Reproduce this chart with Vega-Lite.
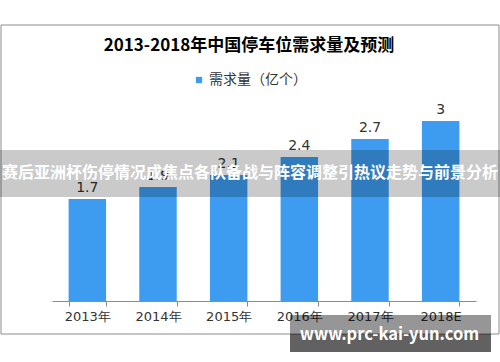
{
  "$schema": "https://vega.github.io/schema/vega-lite/v6.json",
  "width": 424,
  "height": 210,
  "autosize": "none",
  "padding": {"left": 52, "top": 91, "right": 24, "bottom": 61},
  "background": "white",
  "title": {
    "text": "2013-2018年中国停车位需求量及预测",
    "font": "Noto Sans CJK SC",
    "fontSize": 17,
    "fontWeight": "bold",
    "color": "#000000",
    "anchor": "middle",
    "dx": -15,
    "baseline": "bottom",
    "offset": -47
  },
  "config": {
    "view": {"stroke": null}
  },
  "resolve": {"scale": {"x": "independent"}, "axis": {"x": "independent"}},
  "layer": [
    {
      "data": {"values": [
        {"year": "2013年", "value": 1.7},
        {"year": "2014年", "value": 1.9},
        {"year": "2015年", "value": 2.1},
        {"year": "2016年", "value": 2.4},
        {"year": "2017年", "value": 2.7},
        {"year": "2018E", "value": 3}
      ]},
      "encoding": {
        "x": {
          "field": "year", "type": "nominal", "sort": null,
          "scale": {"paddingInner": 0.47, "paddingOuter": 0.235},
          "axis": {
            "title": null, "labelAngle": 0, "tickBand": "extent",
            "tickSize": 5, "labelPadding": 4, "labelFont": "DejaVu Sans",
            "labelFontSize": 13, "labelColor": "#333333",
            "domainColor": "#8c8c8c", "tickColor": "#8c8c8c"
          }
        },
        "y": {
          "field": "value", "type": "quantitative",
          "scale": {"domain": [0, 3.5], "nice": false},
          "axis": {
            "title": null, "grid": false,
            "values": [0, 0.5, 1, 1.5, 2, 2.5, 3, 3.5], "format": "~g",
            "tickSize": 4, "labelPadding": 4, "labelFont": "DejaVu Sans",
            "labelFontSize": 14, "labelColor": "#333333",
            "domainColor": "#8c8c8c", "tickColor": "#8c8c8c"
          }
        }
      },
      "layer": [
        {
          "mark": {"type": "bar"},
          "encoding": {
            "color": {
              "datum": "需求量（亿个）",
              "type": "nominal",
              "scale": {"range": ["#3d9cf0"]},
              "legend": {
                "title": null, "orient": "none", "legendX": 140, "legendY": -18,
                "symbolType": "square", "symbolSize": 40, "symbolStrokeWidth": 0,
                "labelFont": "Noto Sans CJK SC", "labelFontSize": 14,
                "labelColor": "#333333", "labelOffset": 3
              }
            }
          }
        },
        {
          "mark": {"type": "text", "baseline": "bottom", "dy": -4,
                   "font": "DejaVu Sans", "fontSize": 14, "color": "#333333"},
          "encoding": {"text": {"field": "value", "type": "quantitative", "format": "~g"}}
        }
      ]
    },
    {
      "data": {"values": [
        {"kind": "frame", "fx": 0.002, "fx2": 0.998, "fy": 4.6, "fy2": -0.55},
        {"kind": "banner", "fx": 0, "fx2": 1, "fy": 2.517, "fy2": 1.733},
        {"kind": "boxtop", "fx": 0.58, "fx2": 0.982, "fy": -0.233, "fy2": -0.55},
        {"kind": "boxbottom", "fx": 0.58, "fx2": 0.982, "fy": -0.55, "fy2": -0.85}
      ]},
      "mark": {"type": "rect"},
      "encoding": {
        "x": {"field": "fx", "type": "quantitative",
              "scale": {"domain": [0, 1], "range": [-52, 448]}, "axis": null},
        "x2": {"field": "fx2"},
        "y": {"field": "fy", "type": "quantitative",
              "scale": {"domain": [0, 3.5], "nice": false}, "axis": null},
        "y2": {"field": "fy2"},
        "fill": {
          "field": "kind", "type": "nominal", "legend": null,
          "scale": {"domain": ["frame", "banner", "boxtop", "boxbottom"],
                    "range": ["#ffffff", "#000000", "#000000", "#000000"]}
        },
        "fillOpacity": {
          "field": "kind", "type": "nominal", "legend": null,
          "scale": {"domain": ["frame", "banner", "boxtop", "boxbottom"],
                    "range": [0, 0.62, 0.6, 1]}
        },
        "stroke": {
          "field": "kind", "type": "nominal", "legend": null,
          "scale": {"domain": ["frame", "banner", "boxtop", "boxbottom"],
                    "range": ["#8c8c8c", "transparent", "transparent", "transparent"]}
        }
      }
    },
    {
      "data": {"values": [
        {"label": "赛后亚洲杯伤停情况成焦点各队备战与阵容调整引热议走势与前景分析", "fx": 0.5, "fy": 2.133, "size": 16},
        {"label": "www.prc-kai-yun.com", "fx": 0.779, "fy": -0.567, "size": 16.5}
      ]},
      "mark": {"type": "text", "font": "Noto Sans CJK SC", "fontWeight": "bold",
               "color": "#ffffff", "baseline": "middle", "align": "center"},
      "encoding": {
        "x": {"field": "fx", "type": "quantitative",
              "scale": {"domain": [0, 1], "range": [-52, 448]}, "axis": null},
        "y": {"field": "fy", "type": "quantitative",
              "scale": {"domain": [0, 3.5], "nice": false}, "axis": null},
        "text": {"field": "label"},
        "size": {"field": "size", "type": "quantitative", "scale": null, "legend": null}
      }
    }
  ]
}
